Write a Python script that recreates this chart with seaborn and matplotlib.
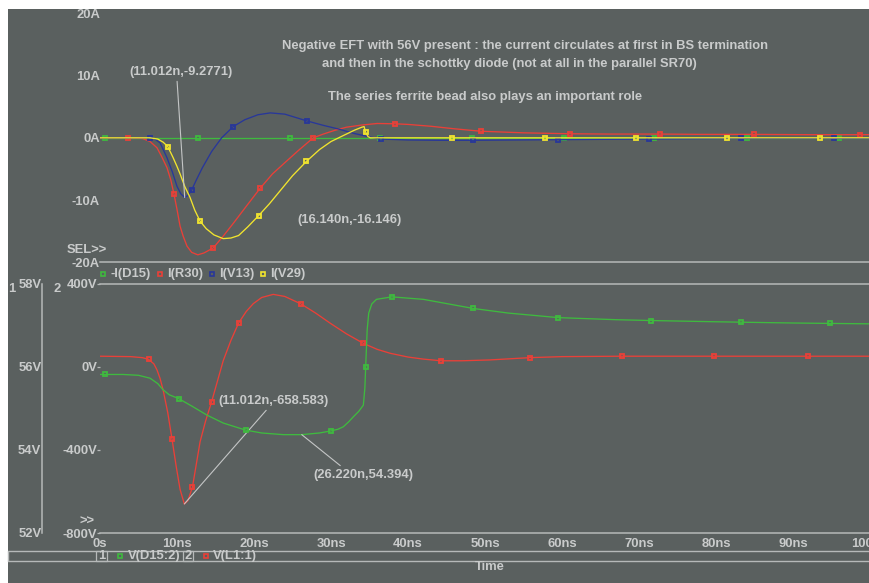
import numpy as np
import matplotlib
matplotlib.use("Agg")
import matplotlib.pyplot as plt
from matplotlib.lines import Line2D
from matplotlib.patches import Rectangle
import seaborn as sns

# ---------------- data (time in ns) ----------------
# upper plot: currents (A)
t_d15 = [0, 0.7, 12.7, 24.7, 36.4, 48.3, 60.2, 72.0, 84.0, 96.0, 100]
i_d15 = [0, 0, 0, 0, 0, 0, 0, 0, 0, 0, 0]
mk_d15 = [0.7, 12.7, 24.7, 36.4, 48.3, 60.2, 72.0, 84.0, 96.0]

t_r30 = [0, 3.7, 5.5, 6.5, 7.4, 8.0, 8.7, 9.2, 9.6, 10.0, 10.4, 10.8, 11.3, 11.9,
         12.7, 13.5, 14.7, 16.0, 17.4, 19.0, 20.8, 22.4, 24.0, 25.8, 27.7, 29.0,
         30.5, 32.0, 34.0, 36.0, 38.3, 40.0, 43.0, 46.0, 49.5, 55.0, 61.0, 66.0,
         72.7, 78.0, 85.0, 92.0, 98.7, 100]
i_r30 = [0, 0, -0.1, -0.6, -1.6, -3.0, -4.8, -6.8, -9.0, -11.5, -14.2, -15.8, -17.4, -18.4,
         -18.8, -18.5, -17.7, -15.8, -13.6, -11.0, -8.1, -5.8, -4.0, -2.0, 0.0, 0.6,
         1.2, 1.7, 2.05, 2.3, 2.25, 2.15, 1.85, 1.45, 1.05, 0.8, 0.65, 0.6,
         0.6, 0.55, 0.55, 0.5, 0.5, 0.5]
mk_r30 = [3.7, 9.6, 14.7, 20.8, 27.7, 38.3, 49.5, 61.0, 72.7, 85.0, 98.7]

t_v13 = [0, 6.5, 7.0, 7.8, 8.7, 9.4, 10.0, 10.5, 11.0, 11.4, 11.9, 12.5, 13.3, 14.5,
         15.8, 17.3, 18.8, 20.5, 22.1, 24.0, 26.9, 29.0, 31.0, 33.0, 35.0, 36.5,
         40.0, 44.0, 48.5, 54.0, 59.5, 65.0, 71.3, 77.0, 83.3, 89.0, 95.3, 100]
i_v13 = [0, 0, -0.1, -0.8, -3.2, -5.5, -7.8, -9.0, -9.6, -9.3, -8.4, -6.8, -4.8, -2.2,
         0.0, 1.8, 2.9, 3.7, 4.0, 3.8, 2.7, 2.0, 1.4, 0.7, 0.15, -0.2,
         -0.35, -0.4, -0.4, -0.35, -0.3, -0.25, -0.2, -0.15, -0.1, -0.1, -0.1, -0.1]
mk_v13 = [6.5, 11.9, 17.3, 26.9, 36.5, 48.5, 59.5, 71.3, 83.3, 95.3]

t_v29 = [0, 6.5, 7.5, 8.2, 8.8, 9.5, 10.0, 10.4, 11.0, 11.7, 12.3, 13.0, 13.8, 14.8,
         16.0, 17.0, 18.0, 19.2, 20.6, 22.0, 23.4, 25.0, 26.8, 28.5, 30.0, 31.0,
         32.0, 33.0, 34.0, 34.3, 34.5, 34.8, 35.1, 36.0, 45.7, 57.8, 69.6, 81.4, 93.5, 100]
i_v29 = [0, 0, -0.2, -0.7, -1.4, -3.2, -4.6, -5.8, -7.8, -9.6, -11.6, -13.4, -14.6, -15.6,
         -16.2, -16.1, -15.7, -14.3, -12.5, -10.6, -8.5, -6.1, -3.8, -1.9, -0.6, 0.0,
         0.6, 1.2, 1.7, 1.8, 0.9, 0.2, 0.0, 0.0, 0, 0, 0, 0, 0, 0]
mk_v29 = [8.8, 13.0, 20.6, 26.8, 34.5, 45.7, 57.8, 69.6, 81.4, 93.5]

# lower plot: voltages
t_vd15 = [0, 0.7, 3.0, 5.0, 6.5, 7.5, 8.2, 9.0, 10.2, 12.0, 13.9, 16.0, 18.9, 21.0,
          23.8, 26.2, 28.5, 30.0, 30.9, 31.6, 32.3, 32.9, 33.6, 34.2, 34.4, 34.5,
          34.7, 34.9, 35.3, 35.9, 37.9, 42.0, 48.5, 53.0, 59.5, 67.0, 71.5, 80.0,
          83.2, 90.0, 94.8, 100]
v_d15 = [55.82, 55.82, 55.82, 55.80, 55.73, 55.60, 55.45, 55.33, 55.24, 55.05, 54.84,
         54.65, 54.48, 54.41, 54.37, 54.37, 54.41, 54.46, 54.50, 54.56, 54.68, 54.80,
         54.93, 55.08, 55.5, 55.99, 56.9, 57.3, 57.52, 57.63, 57.69, 57.63, 57.41,
         57.3, 57.19, 57.14, 57.12, 57.09, 57.08, 57.06, 57.05, 57.04]
mk_vd15 = [0.7, 10.2, 18.9, 30.0, 34.5, 37.9, 48.5, 59.5, 71.5, 83.2, 94.8]

t_vl1 = [0, 4.0, 5.5, 6.3, 7.0, 7.4, 7.8, 8.2, 8.8, 9.35, 9.9, 10.4, 10.95, 11.4,
         12.0, 12.5, 13.0, 13.7, 14.5, 15.2, 16.0, 17.0, 18.0, 19.0, 19.9, 21.0,
         22.5, 24.0, 26.1, 28.0, 29.9, 32.0, 34.2, 36.0, 37.7, 40.0, 42.0, 44.3,
         47.0, 50.6, 55.8, 60.0, 67.8, 75.0, 79.8, 88.0, 91.9, 100]
v_l1 = [52, 50, 45, 37, 15, -14, -55, -111, -220, -347, -480, -590, -660, -645,
        -580, -470, -360, -262, -167, -75, 30, 128, 212, 268, 305, 335,
        350, 340, 304, 260, 211, 160, 114, 85, 66, 48, 38, 30,
        30, 34, 45, 50, 52, 52, 52, 52, 52, 52]
mk_vl1 = [6.3, 9.35, 12.0, 14.5, 18.0, 26.1, 34.2, 44.3, 55.8, 67.8, 79.8, 91.9]

# ticks / labels
top_yticks = [20, 10, 0, -10, -20]
top_ylabels = ["20A", "10A", "0A", "-10A", "-20A"]
x_ticks = [0, 10, 20, 30, 40, 50, 60, 70, 80, 90, 100]
x_labels = ["0s", "10ns", "20ns", "30ns", "40ns", "50ns", "60ns", "70ns", "80ns", "90ns", "100ns"]
v2_ticks = [400, 0, -400, -800]
v2_labels = ["400V", "0V", "-400V", "-800V"]
v1_ticks = [58, 56, 54, 52]
v1_labels = ["58V", "56V", "54V", "52V"]

title_lines = ["Negative EFT with 56V present : the current circulates at first in BS termination",
               "and then in the schottky diode (not at all in the parallel SR70)",
               "The series ferrite bead also plays an important role"]
top_legend = ["-I(D15)", "I(R30)", "I(V13)", "I(V29)"]
bot_legend = ["V(D15:2)", "V(L1:1)"]

# ---------------- style ----------------
W, H = 870, 583
BG = '#5a605f'
FG = '#c9cbcb'
AXC = '#b6b9b9'
C_GREEN = '#3fba3f'
C_RED = '#ea4038'
C_BLUE = '#28379a'
C_YEL = '#f2e52e'

sns.set_style("dark")
plt.rcParams['font.family'] = ['Liberation Sans', 'DejaVu Sans']
plt.rcParams['font.weight'] = 'bold'
plt.rcParams['font.size'] = 9.4
plt.rcParams['axes.facecolor'] = 'none'

fig = plt.figure(figsize=(W / 100, H / 100), dpi=100, facecolor='white')


def fx(x):
    return x / W


def fy(y):
    return 1 - y / H


fig.add_artist(Rectangle((fx(8), 0), fx(869) - fx(8), fy(9), transform=fig.transFigure,
                         facecolor=BG, edgecolor='none', zorder=-10))

ax_t = fig.add_axes([fx(100), fy(262.3), 1 - fx(100), (262.3 - 13.3) / H])
ax_b = fig.add_axes([fx(100), fy(533), 1 - fx(100), (533 - 284) / H])
ax_g = ax_b.twinx()
for a in (ax_t, ax_b, ax_g):
    a.set_facecolor('none')
    a.grid(False)


def draw(ax, t, v, marks, color):
    idx = [int(np.argmin(np.abs(np.asarray(t) - m))) for m in marks]
    sns.lineplot(x=t, y=v, ax=ax, color=color, linewidth=0.95, estimator=None,
                 marker='s', markevery=idx, markersize=3.1, markerfacecolor='none',
                 markeredgecolor=color, markeredgewidth=1.3, legend=False)


draw(ax_t, t_d15, i_d15, mk_d15, C_GREEN)
draw(ax_t, t_r30, i_r30, mk_r30, C_RED)
draw(ax_t, t_v13, i_v13, mk_v13, C_BLUE)
draw(ax_t, t_v29, i_v29, mk_v29, C_YEL)
draw(ax_b, t_vl1, v_l1, mk_vl1, C_RED)
draw(ax_g, t_vd15, v_d15, mk_vd15, C_GREEN)

# top axes
ax_t.set_xlim(0, 100)
ax_t.set_ylim(-20, 20)
ax_t.set_xticks([])
ax_t.set_yticks(top_yticks, top_ylabels)
ax_t.tick_params(axis='y', length=0, pad=0, colors=FG, labelsize=9.4)
for s in ('top', 'left', 'right'):
    ax_t.spines[s].set_visible(False)
ax_t.spines['bottom'].set_color(AXC)
ax_t.spines['bottom'].set_linewidth(1.1)
ax_t.set_xlabel('')
ax_t.set_ylabel('')

# bottom axes
ax_b.set_xlim(0, 100)
ax_b.set_ylim(-800, 400)
ax_b.set_xticks(x_ticks, x_labels)
ax_b.set_yticks(v2_ticks, v2_labels)
ax_b.tick_params(axis='x', direction='inout', length=3.5, width=0.9, color=AXC,
                 pad=1.5, labelcolor=FG, labelsize=9.4)
ax_b.tick_params(axis='y', direction='out', length=2.2, width=0.9, color=AXC,
                 pad=0, labelcolor=FG, labelsize=9.4)
for s in ('left', 'right'):
    ax_b.spines[s].set_visible(False)
for s in ('top', 'bottom'):
    ax_b.spines[s].set_color(AXC)
    ax_b.spines[s].set_linewidth(1.1)
ax_b.set_xlabel('')
ax_b.set_ylabel('')

ax_g.set_ylim(52, 58)
ax_g.set_yticks(v1_ticks, v1_labels)
ax_g.yaxis.set_ticks_position('left')
ax_g.yaxis.set_label_position('left')
ax_g.spines['left'].set_position(('axes', (42 - 100) / 770))
ax_g.spines['left'].set_visible(True)
ax_g.spines['left'].set_color(AXC)
ax_g.spines['left'].set_linewidth(1.1)
for s in ('top', 'bottom', 'right'):
    ax_g.spines[s].set_visible(False)
ax_g.tick_params(axis='y', length=0, pad=0.5, labelcolor=FG, labelsize=9.4)
ax_g.set_ylabel('')
ax_g.set_xlabel('')

# annotations
arrow = dict(arrowstyle='-', color='#c4c6c6', lw=0.8, shrinkA=0, shrinkB=0)
ax_t.annotate('(11.012n,-9.2771)', xy=(11.0, -9.6), xytext=(10.52, 10.56),
              ha='center', va='center', color=FG, annotation_clip=False,
              arrowprops=dict(arrow, relpos=(0.46, 0)))
ax_t.text(32.34, -13.28, '(16.140n,-16.146)', ha='center', va='center', color=FG)
ax_b.annotate('(11.012n,-658.583)', xy=(10.95, -660), xytext=(22.53, -164),
              ha='center', va='center', color=FG, annotation_clip=False,
              arrowprops=dict(arrow, relpos=(0.46, 0)))
ax_g.annotate('(26.220n,54.394)', xy=(26.2, 54.37), xytext=(34.2, 53.40),
              ha='center', va='center', color=FG, annotation_clip=False,
              arrowprops=dict(arrow, relpos=(0.31, 1)))

# figure texts
fig.text(fx(525), fy(45.7), title_lines[0], ha='center', va='center', color=FG)
fig.text(fx(509), fy(64.3), title_lines[1], ha='center', va='center', color=FG)
fig.text(fx(485), fy(96.7), title_lines[2], ha='center', va='center', color=FG)
fig.text(fx(67), fy(249.5), 'SEL>>', ha='left', va='center', color=FG)
fig.text(fx(79), fy(522), '>>', ha='left', va='center', color=FG)
fig.text(fx(12), fy(289), '1', ha='center', va='center', color=FG)
fig.text(fx(57), fy(289), '2', ha='center', va='center', color=FG)

# top legend
for mxp, txp, lab, col in zip([102.7, 160, 211.7, 262.7], [110.5, 167, 219, 270.5],
                              top_legend, [C_GREEN, C_RED, C_BLUE, C_YEL]):
    fig.add_artist(Line2D([fx(mxp)], [fy(274)], transform=fig.transFigure, marker='s',
                          ms=3.0, mfc='none', mec=col, mew=1.2, ls='none'))
    fig.text(fx(txp), fy(274), lab, ha='left', va='center', color=FG)

# bottom legend row
for yy in (551, 561):
    fig.add_artist(Line2D([fx(8), 1], [fy(yy), fy(yy)], transform=fig.transFigure,
                          color=AXC, lw=1.0))
fig.add_artist(Line2D([fx(8.5), fx(8.5)], [fy(551), fy(561)], transform=fig.transFigure,
                      color=AXC, lw=1.0))
for x0, x1 in ((96, 107), (183, 193)):
    fig.add_artist(Rectangle((fx(x0), fy(561)), fx(x1) - fx(x0), 10 / H, transform=fig.transFigure,
                             fill=False, edgecolor=AXC, lw=0.9))
fig.text(fx(102), fy(556), '1', ha='center', va='center', color=FG)
fig.add_artist(Line2D([fx(120)], [fy(556)], transform=fig.transFigure, marker='s',
                      ms=3.0, mfc='none', mec=C_GREEN, mew=1.2, ls='none'))
fig.text(fx(128), fy(556), bot_legend[0], ha='left', va='center', color=FG)
fig.text(fx(188.5), fy(556), '2', ha='center', va='center', color=FG)
fig.add_artist(Line2D([fx(205.7)], [fy(556)], transform=fig.transFigure, marker='s',
                      ms=3.0, mfc='none', mec=C_RED, mew=1.2, ls='none'))
fig.text(fx(213), fy(556), bot_legend[1], ha='left', va='center', color=FG)
fig.text(fx(490), fy(566.5), 'Time', ha='center', va='center', color=FG)

fig.savefig('out.png', dpi=100, facecolor='white')
